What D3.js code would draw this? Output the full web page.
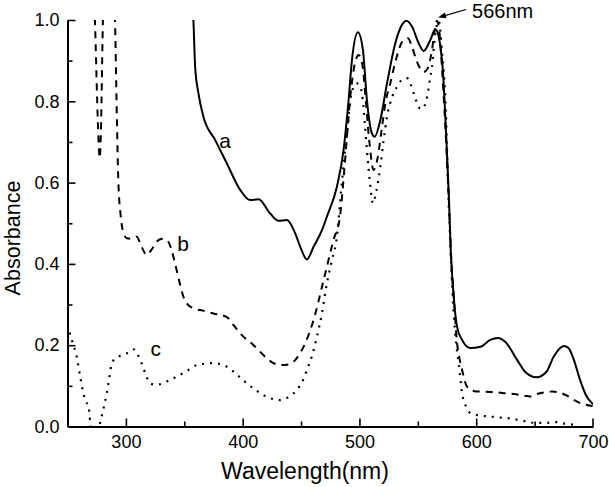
<!DOCTYPE html>
<html>
<head>
<meta charset="utf-8">
<script src="https://cdn.jsdelivr.net/npm/d3@7"></script>
<style>
  html, body { margin: 0; padding: 0; background: #fff; }
  svg { display: block; font-family: "Liberation Sans", Arial, sans-serif; }
</style>
</head>
<body>
<svg id="chart" width="609" height="487"></svg>
<script>
// ---- data (wavelength nm, absorbance) ----
const curveA = [
  [355, 1.08], [357.8, 1.0], [359.3, 0.885], [362.1, 0.82], [366.4, 0.762], [376.4, 0.705],
  [386.5, 0.647], [397.9, 0.582], [406.4, 0.557], [413.6, 0.559], [423.6, 0.524],
  [430.7, 0.506], [437.9, 0.508], [445, 0.475], [449.3, 0.442], [455, 0.411],
  [460.7, 0.442], [467.9, 0.483], [472.1, 0.516], [480.7, 0.59], [486.4, 0.68],
  [490.7, 0.803], [493.6, 0.902], [498.7, 0.97], [503, 0.926], [506.4, 0.803],
  [510.7, 0.721], [513, 0.713], [517.9, 0.754], [523.6, 0.844], [530.7, 0.943],
  [536.4, 0.988], [540.1, 0.998], [545, 0.984], [550.7, 0.943], [555, 0.924],
  [560.7, 0.951], [565, 0.977], [567.9, 0.959], [569.5, 0.93], [571.2, 0.885],
  [574.2, 0.721], [576.7, 0.557], [578.1, 0.44], [580.7, 0.32], [583.6, 0.245],
  [587.9, 0.213], [595, 0.193], [603.6, 0.196], [612, 0.213], [618.4, 0.218],
  [625, 0.208], [635, 0.164], [642, 0.134], [651.6, 0.121], [660, 0.134],
  [666.4, 0.172], [675, 0.198], [679, 0.193], [683.6, 0.164], [689, 0.114],
  [694, 0.077], [700, 0.055]
];
const curveB = [
  [272.5, 1.1], [274, 0.95], [276, 0.75], [277.6, 0.66], [278.8, 0.75], [280, 0.95],
  [281.2, 1.1], [289, 1.1], [290.7, 1.0], [292, 0.8], [293.5, 0.607], [295.5, 0.52],
  [298, 0.476], [300.7, 0.463], [305, 0.462], [309.3, 0.467], [313, 0.445],
  [317.9, 0.422], [322, 0.435], [326.5, 0.455], [331, 0.462], [335, 0.459],
  [338.5, 0.44], [342.1, 0.401], [345.5, 0.36], [349.3, 0.319], [353, 0.3],
  [357.8, 0.291], [366, 0.285], [375, 0.278], [386.5, 0.269], [392, 0.25],
  [397.9, 0.229], [409.3, 0.2], [420.7, 0.168], [427, 0.155], [432.1, 0.151],
  [438, 0.152], [443.5, 0.159], [448, 0.175], [453.6, 0.205], [460.7, 0.262],
  [469.3, 0.36], [477.8, 0.459], [483.3, 0.516], [487, 0.63], [489.5, 0.72],
  [492.5, 0.82], [495.5, 0.885], [499.3, 0.914], [502.5, 0.89], [505.5, 0.8],
  [508.5, 0.7], [512.1, 0.631], [515.5, 0.66], [519, 0.73], [522.5, 0.8],
  [526.4, 0.844], [531, 0.9], [537, 0.948], [541.6, 0.955], [545, 0.934],
  [549.3, 0.897], [555, 0.872], [558.4, 0.881], [562.1, 0.926], [564.5, 0.975],
  [566.4, 0.998], [568.5, 0.97], [570.5, 0.89], [573.5, 0.74], [576.5, 0.56],
  [578.5, 0.42], [581, 0.31], [583.6, 0.205], [585.5, 0.17], [587.9, 0.139],
  [592.1, 0.098], [598.5, 0.087], [605, 0.086], [612, 0.085], [617.9, 0.084],
  [623.5, 0.082], [632.1, 0.08], [643.6, 0.075], [647, 0.074], [652, 0.08],
  [658, 0.084], [665, 0.086], [672, 0.083], [679, 0.074], [686.4, 0.061],
  [693, 0.054], [700, 0.05]
];
const curveC = [
  [250, 0.25], [254, 0.21], [257.9, 0.172], [261, 0.12], [263.6, 0.082], [266, 0.06],
  [267.9, 0.053], [269.5, 0.01], [272, -0.03], [275, -0.03], [277.9, 0.008],
  [280.5, 0.04], [283.6, 0.082], [285.8, 0.12], [287.9, 0.155], [292, 0.17],
  [297.9, 0.176], [302, 0.182], [306.4, 0.19], [310, 0.177], [313.6, 0.155],
  [317, 0.128], [320.7, 0.106], [325, 0.103], [329.3, 0.104], [336, 0.112],
  [343.6, 0.123], [352, 0.136], [360.7, 0.151], [369.3, 0.155], [375, 0.156],
  [386.5, 0.147], [395, 0.128], [403.6, 0.106], [412, 0.088], [420.7, 0.073],
  [432.1, 0.065], [440, 0.074], [446.4, 0.09], [451, 0.11], [455, 0.139],
  [459.5, 0.175], [463.6, 0.221], [468, 0.28], [472.1, 0.352], [476.5, 0.41],
  [480.7, 0.467], [484, 0.57], [487, 0.66], [489.3, 0.72], [492.1, 0.803],
  [495, 0.835], [497.9, 0.844], [500.7, 0.836], [502.1, 0.82], [504.5, 0.75],
  [506.4, 0.68], [509, 0.6], [511.6, 0.549], [514.5, 0.58], [517.9, 0.639],
  [520.5, 0.7], [523.6, 0.762], [528, 0.81], [532.1, 0.836], [536, 0.852],
  [540.7, 0.857], [544, 0.84], [547.9, 0.807], [550.7, 0.785], [553.5, 0.781],
  [557.9, 0.81], [560.1, 0.85], [562.1, 0.885], [565, 0.967], [567.9, 0.998],
  [570.5, 0.93], [573.6, 0.803], [576.4, 0.55], [578.5, 0.4], [580.7, 0.278],
  [583, 0.2], [585, 0.155], [587.9, 0.082], [590.5, 0.055], [593.6, 0.036],
  [600.7, 0.028], [610, 0.025], [620.7, 0.022], [629, 0.02], [640, 0.014],
  [650.7, 0.009], [660, 0.009], [668, 0.011], [676, 0.007], [683.6, 0.004], [688, 0.0]
];
const xTicks = [300, 400, 500, 600, 700];
const yTicks = [0.0, 0.2, 0.4, 0.6, 0.8, 1.0];
const curveLabels = [
  { text: "a", x: 380, y: 0.685 },
  { text: "b", x: 344, y: 0.432 },
  { text: "c", x: 321, y: 0.173 }
];
const annotation = { text: "566nm", peakX: 566, peakY: 1.0 };

// ---- layout ----
const svg = d3.select("#chart");
const L = 67.5, R = 593, T = 20, B = 426.5;
const x = d3.scaleLinear().domain([250, 700]).range([L, R]);
const y = d3.scaleLinear().domain([0, 1]).range([B, T]);

svg.append("defs").append("clipPath").attr("id", "plotclip")
  .append("rect").attr("x", L).attr("y", T).attr("width", R - L).attr("height", B - T);

const line = d3.line().x(d => x(d[0])).y(d => y(d[1])).curve(d3.curveMonotoneX);
const g = svg.append("g").attr("clip-path", "url(#plotclip)");
g.append("path").datum(curveC).attr("d", line).attr("fill", "none")
  .attr("stroke", "#000").attr("stroke-width", 2.2).attr("stroke-dasharray", "2,6");
g.append("path").datum(curveB).attr("d", line).attr("fill", "none")
  .attr("stroke", "#000").attr("stroke-width", 2).attr("stroke-dasharray", "7,6");
g.append("path").datum(curveA).attr("d", line).attr("fill", "none")
  .attr("stroke", "#000").attr("stroke-width", 2);

// ---- axes ----
const xAxis = svg.append("g").attr("transform", `translate(0,${B})`)
  .call(d3.axisBottom(x).tickValues(xTicks).tickSizeInner(-8).tickSizeOuter(0).tickPadding(9).tickFormat(d3.format("d")));
xAxis.selectAll(".tick").filter(d => d === 700).select("line").attr("transform", "translate(-0.5,0)");
const xMinor = svg.append("g").attr("transform", `translate(0,${B})`)
  .call(d3.axisBottom(x).tickValues([250, 350, 450, 550, 650]).tickSizeInner(-5).tickSizeOuter(0).tickFormat(""));
xMinor.select(".domain").remove();

const yAxis = svg.append("g").attr("transform", `translate(${L},0)`)
  .call(d3.axisLeft(y).tickValues(yTicks).tickSizeInner(-8).tickSizeOuter(0).tickPadding(8).tickFormat(d3.format(".1f")));
const yMinor = svg.append("g").attr("transform", `translate(${L},0)`)
  .call(d3.axisLeft(y).tickValues([0.1, 0.3, 0.5, 0.7, 0.9]).tickSizeInner(-5).tickSizeOuter(0).tickFormat(""));
yMinor.select(".domain").remove();

svg.selectAll(".domain").attr("stroke-width", 2);
svg.selectAll(".tick line").attr("stroke-width", 1.6);
svg.selectAll(".tick text").attr("font-size", 18).attr("font-family", "Liberation Sans, Arial, sans-serif").attr("fill", "#000");

// ---- titles ----
svg.append("text").attr("x", 305).attr("y", 479).attr("text-anchor", "middle")
  .attr("font-size", 23).text("Wavelength(nm)");
svg.append("text").attr("transform", `translate(19.5,238) rotate(-90)`).attr("text-anchor", "middle")
  .attr("font-size", 21.5).text("Absorbance");

// ---- curve labels ----
svg.selectAll(".clabel").data(curveLabels).enter().append("text")
  .attr("class", "clabel").attr("x", d => x(d.x)).attr("y", d => y(d.y))
  .attr("font-size", 21).text(d => d.text);

// ---- annotation ----
const ax0 = x(annotation.peakX) + 1.5, ay0 = y(annotation.peakY) - 2.5;
const ax1 = ax0 + 28, ay1 = ay0 - 8;
svg.append("line").attr("x1", ax1).attr("y1", ay1).attr("x2", ax0 + 6).attr("y2", ay0 - 1.7)
  .attr("stroke", "#000").attr("stroke-width", 1.3);
const ang = Math.atan2(ay0 - ay1, ax0 - ax1);
const hl = 8, hw = 3;
const p1 = [ax0, ay0];
const p2 = [ax0 - hl * Math.cos(ang) + hw * Math.sin(ang), ay0 - hl * Math.sin(ang) - hw * Math.cos(ang)];
const p3 = [ax0 - hl * Math.cos(ang) - hw * Math.sin(ang), ay0 - hl * Math.sin(ang) + hw * Math.cos(ang)];
svg.append("path").attr("d", `M${p1}L${p2}L${p3}Z`).attr("fill", "#000");
svg.append("text").attr("x", ax1 + 6).attr("y", ay1 + 8).attr("font-size", 20).text(annotation.text);
</script>
</body>
</html>
